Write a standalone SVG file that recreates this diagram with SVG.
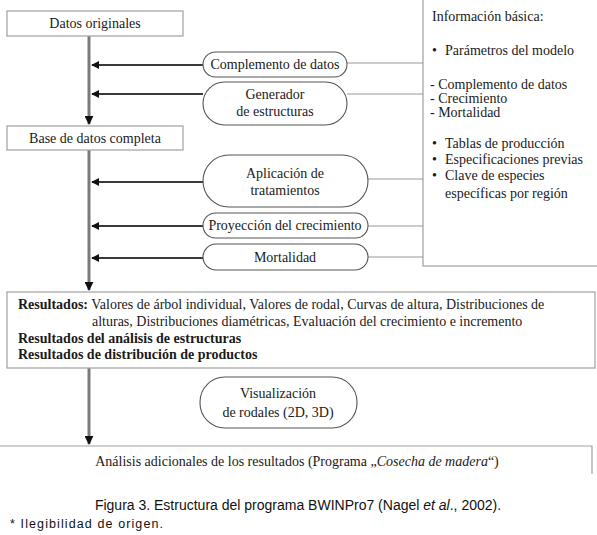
<svg xmlns="http://www.w3.org/2000/svg" width="597" height="535" viewBox="0 0 597 535">
<defs>
<style>
.box{fill:#fff;stroke:#a0a0a0;stroke-width:1.2}
.pill{fill:#fff;stroke:#555;stroke-width:1.1}
.t{font-family:"Liberation Serif",serif;fill:#1a1a1a;font-size:14px}
.c{text-anchor:middle}
.main{stroke:#7a7a7a;stroke-width:3;fill:none}
.conn{stroke:#3a3a3a;stroke-width:2;fill:none}
.thin{stroke:#9a9a9a;stroke-width:1.2;fill:none}
.cap{font-family:"Liberation Sans",sans-serif;fill:#111}
</style>
<marker id="ah" viewBox="0 0 10 10" refX="9" refY="5" markerWidth="4" markerHeight="4" orient="auto" markerUnits="strokeWidth">
<path d="M0,0 L10,5 L0,10 z" fill="#111"/>
</marker>
<marker id="ahd" viewBox="0 0 10 10" refX="9" refY="5" markerWidth="3" markerHeight="3" orient="auto" markerUnits="strokeWidth">
<path d="M0,0 L10,5 L0,10 z" fill="#111"/>
</marker>
</defs>
<rect width="597" height="535" fill="#fff"/>

<g id="info">
<rect class="box" x="423" y="-2" width="180" height="268"/>
<text class="t" x="432" y="21" font-size="16">Información básica:</text>
<text class="t" x="432" y="55">•</text>
<text class="t" x="445" y="55">Parámetros del modelo</text>
<text class="t" x="430" y="89" font-size="11.5">- Complemento de datos</text>
<text class="t" x="430" y="103" font-size="11.5">- Crecimiento</text>
<text class="t" x="430" y="117" font-size="11.5">- Mortalidad</text>
<text class="t" x="432" y="148">•</text>
<text class="t" x="445" y="148">Tablas de producción</text>
<text class="t" x="432" y="164">•</text>
<text class="t" x="445" y="164">Especificaciones previas</text>
<text class="t" x="432" y="180">•</text>
<text class="t" x="445" y="180">Clave de especies</text>
<text class="t" x="445" y="198">específicas por región</text>
</g>

<g id="connectors">
<line class="main" x1="89" y1="36" x2="89" y2="124" marker-end="url(#ahd)"/>
<line class="main" x1="89" y1="150" x2="89" y2="290" marker-end="url(#ahd)"/>
<line class="main" x1="89" y1="368" x2="89" y2="444" marker-end="url(#ahd)"/>
<line class="conn" x1="203" y1="65" x2="92" y2="65" marker-end="url(#ah)"/>
<line class="conn" x1="203" y1="94" x2="92" y2="94" marker-end="url(#ah)"/>
<line class="conn" x1="203" y1="182" x2="92" y2="182" marker-end="url(#ah)"/>
<line class="conn" x1="203" y1="226" x2="92" y2="226" marker-end="url(#ah)"/>
<line class="conn" x1="203" y1="258" x2="92" y2="258" marker-end="url(#ah)"/>
<line class="thin" x1="347" y1="63" x2="423" y2="63"/>
<line class="thin" x1="347" y1="94" x2="423" y2="94"/>
<line class="thin" x1="368" y1="179" x2="423" y2="179"/>
<line class="thin" x1="368" y1="226" x2="423" y2="226"/>
<line class="thin" x1="368" y1="257" x2="423" y2="257"/>
</g>

<g id="datos-originales">
<rect class="box" x="7" y="11" width="176" height="25"/>
<text class="t c" x="95" y="28">Datos originales</text>
</g>

<g id="base-datos">
<rect class="box" x="7" y="126" width="176" height="24"/>
<text class="t c" x="95" y="143">Base de datos completa</text>
</g>

<g id="complemento">
<rect class="pill" x="203" y="52" width="144" height="25" rx="12.5"/>
<text class="t c" x="275" y="69">Complemento de datos</text>
</g>

<g id="generador">
<rect class="pill" x="203" y="82" width="144" height="43" rx="21.5"/>
<text class="t c" x="275" y="99">Generador</text>
<text class="t c" x="275" y="116">de estructuras</text>
</g>

<g id="aplicacion">
<rect class="pill" x="203" y="155" width="165" height="52" rx="26"/>
<text class="t c" x="285" y="178">Aplicación de</text>
<text class="t c" x="285" y="195">tratamientos</text>
</g>

<g id="proyeccion">
<rect class="pill" x="203" y="213" width="165" height="25" rx="12.5"/>
<text class="t c" x="285" y="230">Proyección del crecimiento</text>
</g>

<g id="mortalidad">
<rect class="pill" x="203" y="244" width="165" height="26" rx="13"/>
<text class="t c" x="285" y="262">Mortalidad</text>
</g>

<g id="resultados">
<rect class="box" x="7" y="292" width="588" height="76"/>
<text class="t" x="18" y="309"><tspan font-weight="bold">Resultados:</tspan> Valores de árbol individual, Valores de rodal, Curvas de altura, Distribuciones de</text>
<text class="t" x="92" y="326">alturas, Distribuciones diamétricas, Evaluación del crecimiento e incremento</text>
<text class="t" x="18" y="343" font-weight="bold">Resultados del análisis de estructuras</text>
<text class="t" x="18" y="359" font-weight="bold">Resultados de distribución de productos</text>
</g>

<g id="visualizacion">
<rect class="pill" x="200" y="377" width="157" height="51" rx="25"/>
<text class="t c" x="278" y="398">Visualización</text>
<text class="t c" x="278" y="417">de rodales (2D, 3D)</text>
</g>

<g id="analisis">
<path class="box" d="M-2,446 H592 V474" fill="none"/>
<text class="t c" x="297" y="466">Análisis adicionales de los resultados (Programa „<tspan font-style="italic">Cosecha de madera</tspan>“)</text>
</g>

<text class="cap" x="298" y="510" font-size="14" text-anchor="middle">Figura 3. Estructura del programa BWINPro7 (Nagel <tspan font-style="italic">et al</tspan>., 2002).</text>
<text class="cap" x="10" y="528" font-size="12.5" textLength="153" lengthAdjust="spacing">* Ilegibilidad de origen.</text>
</svg>
